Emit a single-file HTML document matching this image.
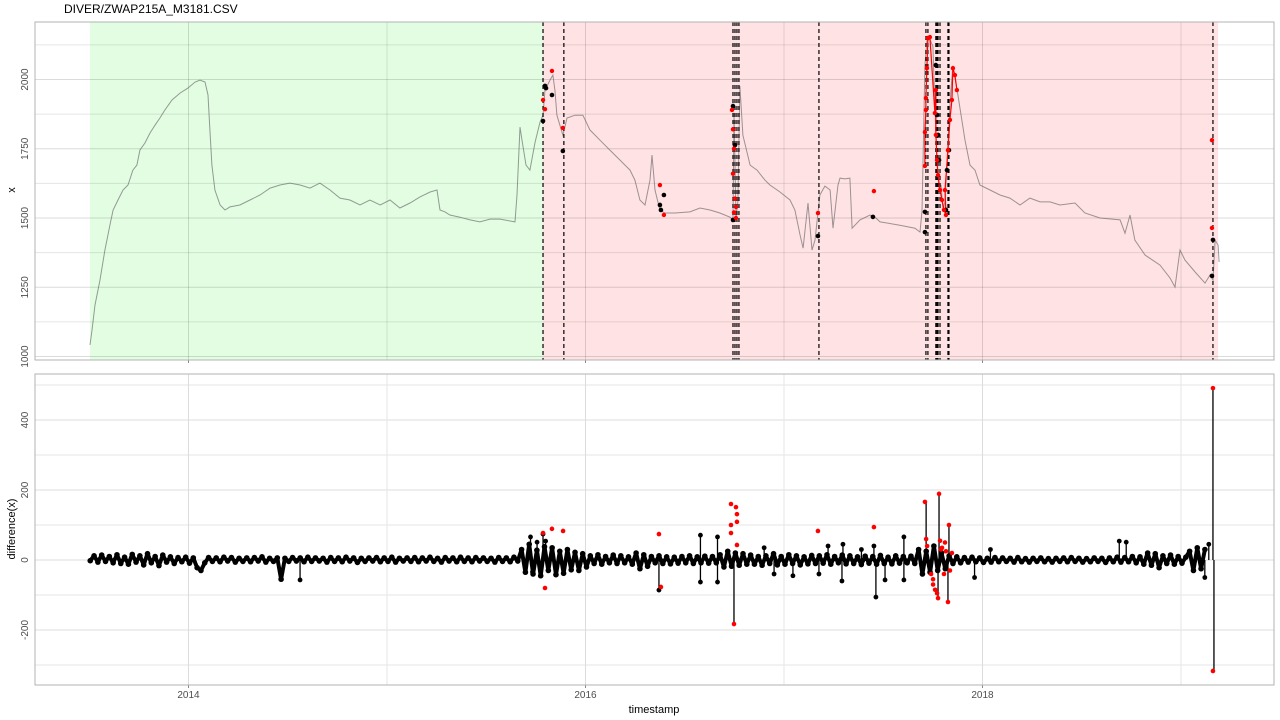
<!DOCTYPE html>
<html><head><meta charset="utf-8">
<style>
html,body{margin:0;padding:0;background:#fff;}
svg{display:block;font-family:"Liberation Sans",Arial,sans-serif;}
</style></head>
<body>
<svg id="chart" width="1280" height="720" viewBox="0 0 1280 720" xmlns="http://www.w3.org/2000/svg">
<text x="64" y="13" font-size="12" fill="#000">DIVER/ZWAP215A_M3181.CSV</text>
<g id="topg"></g>
<g id="botg"></g>
<text x="654" y="713" font-size="11" text-anchor="middle" fill="#000">timestamp</text>
<text transform="translate(15,190) rotate(-90)" font-size="11" text-anchor="middle" fill="#000">x</text>
<text transform="translate(15,529) rotate(-90)" font-size="11" text-anchor="middle" fill="#000">difference(x)</text>
</svg>
<script>
// ---- data ----
const xTickYears = [2014, 2016, 2018];
const xMinorYears = [2015, 2017, 2019];
const topTicks = [1000, 1250, 1500, 1750, 2000];
const topMinor = [1125, 1375, 1625, 1875, 2125];
const botTicks = [-200, 0, 200, 400];
const botMinor = [-300, -100, 100, 300, 500];
const regionOk = [2013.504, 2015.786];
const regionBad = [2015.786, 2019.187];
const seriesYears = [2013.504,2013.514,2013.529,2013.554,2013.579,2013.604,2013.620,2013.645,2013.670,2013.695,2013.720,2013.740,2013.755,2013.781,2013.806,2013.831,2013.856,2013.881,2013.917,2013.957,2013.997,2014.033,2014.058,2014.083,2014.098,2014.108,2014.118,2014.133,2014.159,2014.184,2014.209,2014.259,2014.310,2014.360,2014.411,2014.461,2014.511,2014.562,2014.612,2014.662,2014.713,2014.763,2014.813,2014.864,2014.914,2014.965,2015.015,2015.065,2015.116,2015.166,2015.217,2015.252,2015.267,2015.292,2015.317,2015.368,2015.418,2015.468,2015.519,2015.569,2015.645,2015.655,2015.670,2015.680,2015.700,2015.720,2015.746,2015.771,2015.786,
2015.796,2015.821,2015.836,2015.846,2015.856,2015.871,2015.886,2015.907,2015.947,2015.987,2016.022,2016.073,2016.123,2016.174,2016.199,2016.224,2016.249,2016.274,2016.300,2016.325,2016.335,2016.350,2016.375,2016.400,2016.451,2016.526,2016.577,2016.627,2016.677,2016.728,2016.743,2016.748,2016.758,2016.768,2016.778,2016.793,2016.829,2016.864,2016.904,2016.929,2016.980,2017.030,2017.055,2017.081,2017.096,2017.121,2017.141,2017.156,2017.181,2017.206,2017.232,2017.247,2017.272,2017.282,2017.307,2017.332,2017.343,2017.383,2017.433,2017.458,2017.484,2017.584,2017.660,2017.685,2017.695,2017.700,2017.710,2017.720,2017.735,2017.750,2017.760,2017.771,2017.781,2017.791,2017.801,2017.811,2017.821,2017.831,2017.841,2017.851,2017.861,2017.876,2017.912,2017.937,2017.962,2017.987,2018.038,2018.088,2018.138,2018.189,2018.239,2018.290,2018.340,2018.390,2018.466,2018.516,2018.592,2018.693,2018.718,2018.743,2018.768,2018.819,2018.894,2018.945,2018.970,2018.995,2019.020,2019.071,2019.121,2019.146,2019.161,2019.172,2019.187,2019.192];
const seriesValues = [1042,1095,1186,1276,1384,1474,1529,1565,1601,1619,1673,1691,1745,1771,1807,1835,1861,1890,1926,1951,1969,1991,1998,1991,1944,1818,1691,1601,1547,1529,1540,1547,1565,1583,1608,1619,1626,1619,1608,1626,1601,1572,1565,1547,1565,1547,1565,1536,1554,1576,1594,1601,1529,1522,1511,1503,1493,1486,1496,1496,1486,1583,1828,1781,1691,1673,1774,1846,1871,
1962,1998,2016,1962,1871,1835,1799,1861,1871,1871,1818,1781,1745,1709,1691,1673,1637,1565,1547,1637,1727,1601,1529,1518,1518,1522,1536,1529,1518,1503,1493,1880,1500,1560,1976,1799,1691,1673,1637,1619,1594,1565,1529,1438,1391,1554,1384,1420,1583,1615,1601,1463,1619,1644,1641,1644,1463,1493,1511,1503,1486,1474,1463,1449,1525,1700,2050,2140,2145,2120,1900,1700,1600,1620,1530,1560,1700,1850,1960,2050,2010,1944,1781,1691,1673,1619,1601,1583,1572,1547,1572,1558,1558,1547,1554,1518,1500,1493,1445,1511,1420,1366,1330,1283,1251,1384,1348,1305,1265,1294,1276,1420,1402,1341];
const changeYears = [2015.786,2015.891,2016.743,2016.753,2016.763,2016.773,2017.176,2017.715,2017.725,2017.765,2017.771,2017.776,2017.786,2017.826,2017.831,2019.161];
const redYears = [2015.831,2015.786,2015.796,2015.886,2016.375,2016.395,2016.738,2016.743,2016.748,2016.743,2016.753,2016.758,2016.748,2016.758,2017.171,2017.453,2019.156,2019.156];
const redValues = [2031,1926,1893,1825,1619,1511,1890,1820,1750,1660,1570,1540,1520,1500,1518,1597,1781,1464];
const redClusterYears = [2017.710,2017.710,2017.715,2017.715,2017.720,2017.725,2017.735,2017.760,2017.765,2017.765,2017.771,2017.776,2017.786,2017.796,2017.806,2017.816,2017.811,2017.826,2017.836,2017.846,2017.851,2017.861,2017.871];
const redClusterValues = [1688,1810,1890,1933,2041,2150,2153,1879,1962,1800,1709,1655,1601,1565,1529,1511,1601,1745,1854,1926,2041,2016,1962];
const blackYears = [2015.796,2015.801,2015.831,2015.786,2015.886,2016.375,2016.395,2016.380,2016.743,2016.743,2016.753,2017.171,2017.448,2019.156,2019.161,2017.710,2017.710,2017.765,2017.771,2017.776,2017.781,2017.816,2017.821,2017.831];
const blackValues = [1977,1969,1944,1850,1742,1547,1583,1529,1904,1493,1763,1435,1504,1291,1421,1522,1449,2052,1872,1800,1709,1529,1673,1745];
// difference series, weekly from diffStart
const diffStart = 2013.505;
const diffStep = 1/52;
const diffValues = [
-2,12,-6,14,-4,10,-8,15,-10,8,-12,16,-6,12,-14,18,-8,10,-16,14,-6,9,-10,7,-5,8,-9,6,-22,-30,-8,7,-4,6,-5,8,-3,7,-6,5,-4,6,-5,7,-3,9,-6,5,-4,6,-55,5,-4,7,-3,6,-5,8,-4,6,-3,5,-6,7,-4,6,-5,8,-3,6,-7,5,-4,6,-3,7,-5,6,-4,8,-6,5,-3,6,-4,7,-5,6,-3,8,-4,5,-6,7,-3,6,-5,8,-4,6,-5,7,-3,6,-4,5,-6,7,-4,6,-5,8,-3,
30,-35,45,-40,28,-45,38,-30,35,-42,25,-38,30,-28,22,-30,18,-20,
12,-10,15,-12,10,-8,14,-10,12,-8,9,-12,20,-25,15,-18,10,-8,12,-10,9,-11,8,-9,10,-8,12,-10,9,-8,11,-9,10,-8,
15,-20,25,-18,20,-15,18,-12,
14,-12,10,-15,12,-10,18,-14,10,-12,15,-10,12,-14,9,-11,13,-10,12,-9,15,-12,10,-8,14,-11,12,-10,9,-13,11,-9,10,-12,13,-10,8,-11,12,-9,10,-8,11,-10,
30,-40,25,-35,40,-30,20,-25,
12,-10,9,-8,7,-6,8,-5,6,-7,5,-6,7,-5,6,-4,5,-6,7,-5,4,-6,5,-4,6,-5,4,-6,5,-4,6,-5,7,-4,5,-6,4,-5,6,-4,5,-7,6,-5,8,-6,7,-5,10,-8,9,-12,20,-15,18,-22,12,-10,14,-12,10,-9,8,
25,-30,35,-25,30];
const spikeYears = [2015.723,2015.733,2015.799,2014.562,2015.756,2015.786,2016.370,2016.579,2016.579,2016.665,2016.665,2017.176,2017.297,2017.292,2017.463,2017.453,2017.604,2017.604,2017.509,2018.689,2018.724,2017.222,2017.045,2016.900,2016.950,2017.390,2018.040,2017.960,2019.140,2019.120];
const spikeValues = [66,-34,54,-57,51,74,-86,71,-63,66,-63,-40,45,-60,-106,40,66,-57,-57,54,51,40,-45,35,-40,30,30,-50,45,-50];
const diffRedYears = [2015.831,2015.786,2015.887,2015.796,2016.370,2016.380,2016.733,2016.758,2016.763,2016.763,2016.733,2016.733,2016.748,2016.763,2017.171,2017.453,2017.710,2017.781,2017.831,2017.776,2017.826,2017.716,2017.721,2017.741,2017.751,2017.761,2017.786,2017.796,2017.806,2017.816,2017.836,2017.846,2017.751,2017.771,2017.791,2017.811,2019.161,2019.161];
const diffRedValues = [89,77,83,-80,74,-77,160,151,131,109,100,77,-183,43,83,94,166,189,100,-109,-120,60,40,-40,-70,-85,55,35,-40,25,-30,20,-55,-95,30,50,491,-317];
const bigSpikeYears = [2016.748,2017.716,2017.781,2017.831,2017.776,2017.826,2019.161,2019.166];
const bigSpikeValues = [-183,166,189,100,-109,-120,491,-317];

// ---- scales ----
const X0 = 35, X1 = 1274;
function xs(yr){ return 188.5 + (yr - 2014) * 198.5; }
const T0 = 22, T1 = 360;
function ysTop(v){ return 356.5 - (v - 1000) * 0.277; }
const B0 = 374, B1 = 685;
function ysBot(v){ return 560 - v * 0.35; }
const NS = 'http://www.w3.org/2000/svg';
function mk(parent, tag, attrs){
  const e = document.createElementNS(NS, tag);
  for (const k in attrs) e.setAttribute(k, attrs[k]);
  parent.appendChild(e); return e;
}
const topPanel = document.getElementById('topg');
const botPanel = document.getElementById('botg');

// ---- top panel ----
let r = mk(topPanel,'rect',{x:X0,y:T0,width:X1-X0,height:T1-T0,fill:'#fff'});


r = mk(topPanel,'rect',{x:xs(regionOk[0]),y:T0,width:xs(regionOk[1])-xs(regionOk[0]),height:T1-T0,fill:'#e2fde2'});


r = mk(topPanel,'rect',{x:xs(regionBad[0]),y:T0,width:xs(regionBad[1])-xs(regionBad[0]),height:T1-T0,fill:'#ffe2e3'});


topMinor.forEach(v=>{ const l=mk(topPanel,'line',{x1:X0,x2:X1,y1:ysTop(v),y2:ysTop(v),stroke:'rgba(0,0,0,0.10)','stroke-width':1});
  
   });
topTicks.forEach(v=>{ const l=mk(topPanel,'line',{x1:X0,x2:X1,y1:ysTop(v),y2:ysTop(v),stroke:'rgba(0,0,0,0.14)','stroke-width':1});
  
  
  const t=mk(topPanel,'text',{transform:`translate(${X0-7},${ysTop(v)}) rotate(-90)`,'font-size':10,'text-anchor':'middle',fill:'#4d4d4d'});
  t.textContent=v;
  
   });
xMinorYears.forEach(yr=>{ const l=mk(topPanel,'line',{x1:xs(yr),x2:xs(yr),y1:T0,y2:T1,stroke:'rgba(0,0,0,0.10)','stroke-width':1});
  
   });
xTickYears.forEach(yr=>{ const l=mk(topPanel,'line',{x1:xs(yr),x2:xs(yr),y1:T0,y2:T1,stroke:'rgba(0,0,0,0.14)','stroke-width':1});
  
  
  const tk=mk(topPanel,'line',{x1:xs(yr),x2:xs(yr),y1:T1,y2:T1+3,stroke:'#888'});
  
   });
let pts = seriesYears.map((yr,i)=>xs(yr).toFixed(1)+','+ysTop(seriesValues[i]).toFixed(1)).join(' ');
let pl = mk(topPanel,'polyline',{points:pts,fill:'none',stroke:'rgba(90,90,90,0.6)','stroke-width':1});


changeYears.forEach(yr=>{ const l=mk(topPanel,'line',{x1:xs(yr),x2:xs(yr),y1:T0,y2:T1,stroke:'#000','stroke-width':1.2,'stroke-dasharray':'4,3'});
  
   });
pts = redClusterYears.map((yr,i)=>xs(yr).toFixed(1)+','+ysTop(redClusterValues[i]).toFixed(1)).join(' ');
pl = mk(topPanel,'polyline',{points:pts,fill:'none',stroke:'#f00','stroke-width':1.2});


blackYears.forEach((yr,i)=>{ const c=mk(topPanel,'circle',{cx:xs(yr),cy:ysTop(blackValues[i]),r:2.3,fill:'#000'});
  
   });
redYears.forEach((yr,i)=>{ const c=mk(topPanel,'circle',{cx:xs(yr),cy:ysTop(redValues[i]),r:2.2,fill:'#f00'});
  
   });
redClusterYears.forEach((yr,i)=>{ const c=mk(topPanel,'circle',{cx:xs(yr),cy:ysTop(redClusterValues[i]),r:2.2,fill:'#f00'});
  
   });
r = mk(topPanel,'rect',{x:X0,y:T0,width:X1-X0,height:T1-T0,fill:'none',stroke:'#b3b3b3','stroke-width':1});



// ---- bottom panel ----
r = mk(botPanel,'rect',{x:X0,y:B0,width:X1-X0,height:B1-B0,fill:'#fff'});


botMinor.forEach(v=>{ const l=mk(botPanel,'line',{x1:X0,x2:X1,y1:ysBot(v),y2:ysBot(v),stroke:'#e6e6e6','stroke-width':1});
  
   });
botTicks.forEach(v=>{ const l=mk(botPanel,'line',{x1:X0,x2:X1,y1:ysBot(v),y2:ysBot(v),stroke:'#dcdcdc','stroke-width':1});
  
  
  const t=mk(botPanel,'text',{transform:`translate(${X0-7},${ysBot(v)}) rotate(-90)`,'font-size':10,'text-anchor':'middle',fill:'#4d4d4d'});
  t.textContent=v;
  
   });
xMinorYears.forEach(yr=>{ const l=mk(botPanel,'line',{x1:xs(yr),x2:xs(yr),y1:B0,y2:B1,stroke:'#e6e6e6','stroke-width':1});
  
   });
xTickYears.forEach(yr=>{ const l=mk(botPanel,'line',{x1:xs(yr),x2:xs(yr),y1:B0,y2:B1,stroke:'#dcdcdc','stroke-width':1});
  
  
  const tk=mk(botPanel,'line',{x1:xs(yr),x2:xs(yr),y1:B1,y2:B1+3,stroke:'#888'});
  
  
  const t=mk(botPanel,'text',{x:xs(yr),y:B1+13,'font-size':10,'text-anchor':'middle',fill:'#4d4d4d'});
  t.textContent=yr;
  
   });
pts = diffValues.map((v,i)=>xs(diffStart+i*diffStep).toFixed(1)+','+ysBot(v).toFixed(1)).join(' ');
pl = mk(botPanel,'polyline',{points:pts,fill:'none',stroke:'#000','stroke-width':4,'stroke-linejoin':'round'});


diffValues.forEach((v,i)=>{ const c=mk(botPanel,'circle',{cx:xs(diffStart+i*diffStep),cy:ysBot(v),r:2.8,fill:'#000'});
  
   });
spikeYears.forEach((yr,i)=>{ const l=mk(botPanel,'line',{x1:xs(yr),x2:xs(yr),y1:ysBot(0),y2:ysBot(spikeValues[i]),stroke:'#000','stroke-width':1.3});
  
  
  const c=mk(botPanel,'circle',{cx:xs(yr),cy:ysBot(spikeValues[i]),r:2.4,fill:'#000'});
  
   });
bigSpikeYears.forEach((yr,i)=>{ const l=mk(botPanel,'line',{x1:xs(yr),x2:xs(yr),y1:ysBot(0),y2:ysBot(bigSpikeValues[i]),stroke:'#000','stroke-width':1.3});
  
   });
diffRedYears.forEach((yr,i)=>{ const c=mk(botPanel,'circle',{cx:xs(yr),cy:ysBot(diffRedValues[i]),r:2.3,fill:'#f00'});
  
   });
r = mk(botPanel,'rect',{x:X0,y:B0,width:X1-X0,height:B1-B0,fill:'none',stroke:'#b3b3b3','stroke-width':1});


</script>
</body></html>
